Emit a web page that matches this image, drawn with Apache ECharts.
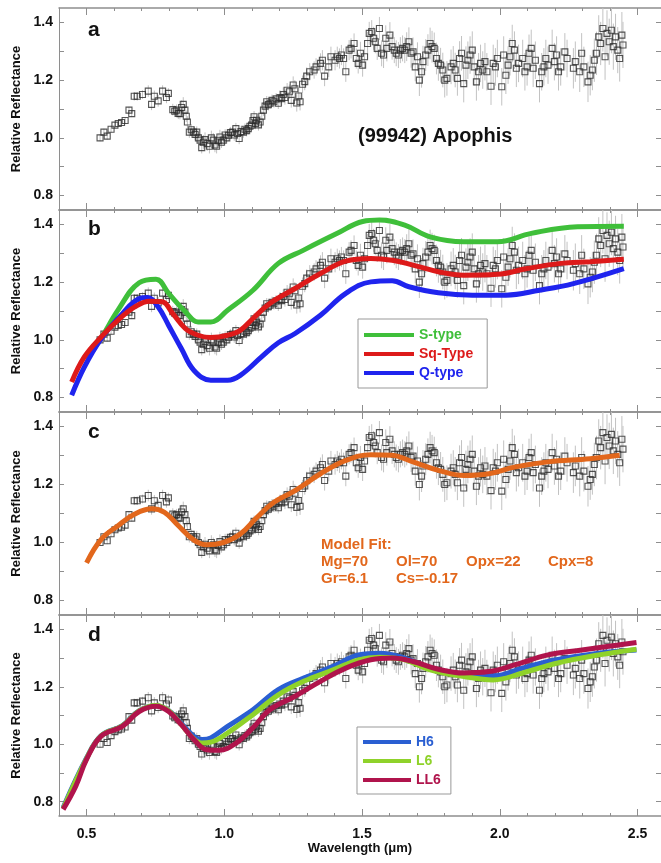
<!DOCTYPE html>
<html>
<head>
<meta charset="utf-8">
<script src="https://cdn.jsdelivr.net/npm/echarts@6/dist/echarts.min.js"></script>
<style>
  html, body { margin: 0; padding: 0; background: #fff; }
  #chart { width: 661px; height: 863px; }
</style>
</head>
<body>
<div id="chart"></div>
<script>
// observed spectrum of (99942) Apophis: [wavelength, reflectance, error]
const obsData = [
  [0.549,1.000,0.012],[0.563,1.020,0.012],[0.575,1.006,0.012],[0.589,1.030,0.012],[0.603,1.044,0.010],
  [0.615,1.050,0.010],[0.627,1.053,0.010],[0.640,1.060,0.010],[0.654,1.096,0.012],[0.664,1.084,0.012],
  [0.673,1.144,0.015],[0.684,1.144,0.015],[0.703,1.150,0.015],[0.724,1.162,0.020],[0.736,1.116,0.020],
  [0.746,1.144,0.020],[0.760,1.128,0.020],[0.776,1.162,0.020],[0.790,1.140,0.020],[0.797,1.154,0.018],
  [0.813,1.098,0.020],[0.820,1.092,0.020],[0.827,1.096,0.020],[0.833,1.085,0.020],[0.839,1.084,0.020],
  [0.845,1.105,0.025],[0.851,1.116,0.025],[0.857,1.096,0.020],[0.862,1.075,0.020],[0.866,1.055,0.020],
  [0.873,1.020,0.020],[0.880,1.028,0.020],[0.888,1.020,0.020],[0.894,1.012,0.020],[0.900,1.020,0.020],
  [0.906,1.000,0.020],[0.912,0.992,0.020],[0.918,0.966,0.020],[0.924,0.985,0.025],[0.930,0.994,0.025],
  [0.938,0.980,0.025],[0.946,0.971,0.025],[0.953,1.000,0.025],[0.960,0.992,0.025],[0.966,0.975,0.025],
  [0.972,0.971,0.025],[0.978,0.990,0.025],[0.984,1.003,0.025],[0.990,0.985,0.020],[0.996,0.992,0.020],
  [1.003,1.010,0.020],[1.009,1.000,0.020],[1.015,1.009,0.020],[1.022,1.018,0.020],[1.030,1.020,0.020],
  [1.036,1.010,0.020],[1.042,1.032,0.020],[1.048,1.015,0.020],[1.054,0.998,0.020],[1.061,1.022,0.020],
  [1.069,1.020,0.020],[1.075,1.030,0.020],[1.081,1.025,0.020],[1.087,1.032,0.020],[1.093,1.040,0.020],
  [1.099,1.044,0.020],[1.104,1.060,0.020],[1.108,1.073,0.020],[1.113,1.050,0.020],[1.117,1.061,0.020],
  [1.124,1.045,0.020],[1.130,1.055,0.020],[1.136,1.075,0.020],[1.142,1.096,0.020],[1.148,1.110,0.020],
  [1.154,1.125,0.020],[1.160,1.115,0.020],[1.166,1.120,0.020],[1.173,1.130,0.020],[1.180,1.125,0.020],
  [1.188,1.135,0.020],[1.196,1.120,0.020],[1.202,1.140,0.025],[1.208,1.136,0.025],[1.214,1.150,0.025],
  [1.220,1.140,0.025],[1.228,1.165,0.025],[1.236,1.160,0.025],[1.243,1.130,0.025],[1.250,1.183,0.030],
  [1.256,1.170,0.030],[1.263,1.121,0.030],[1.270,1.145,0.030],[1.275,1.125,0.030],[1.284,1.186,0.030],
  [1.292,1.195,0.030],[1.299,1.214,0.030],[1.310,1.229,0.030],[1.326,1.235,0.030],[1.333,1.246,0.030],
  [1.349,1.258,0.035],[1.356,1.269,0.035],[1.364,1.214,0.035],[1.379,1.246,0.035],[1.387,1.281,0.035],
  [1.402,1.269,0.035],[1.410,1.281,0.035],[1.418,1.275,0.035],[1.425,1.287,0.035],[1.433,1.275,0.035],
  [1.441,1.229,0.035],[1.453,1.304,0.035],[1.460,1.310,0.035],[1.471,1.327,0.035],[1.479,1.275,0.035],
  [1.486,1.258,0.035],[1.494,1.293,0.040],[1.502,1.252,0.040],[1.509,1.281,0.040],[1.520,1.327,0.040],
  [1.526,1.362,0.040],[1.535,1.368,0.040],[1.542,1.345,0.040],[1.548,1.333,0.040],[1.555,1.310,0.040],
  [1.563,1.379,0.040],[1.571,1.293,0.045],[1.578,1.287,0.045],[1.586,1.345,0.045],[1.590,1.310,0.045],
  [1.601,1.356,0.045],[1.609,1.316,0.045],[1.617,1.304,0.045],[1.624,1.293,0.045],[1.632,1.287,0.045],
  [1.639,1.304,0.045],[1.647,1.310,0.045],[1.655,1.304,0.045],[1.662,1.316,0.050],[1.670,1.333,0.050],
  [1.678,1.293,0.050],[1.685,1.298,0.050],[1.693,1.246,0.050],[1.701,1.281,0.050],[1.708,1.200,0.055],
  [1.716,1.229,0.055],[1.721,1.264,0.055],[1.731,1.287,0.055],[1.739,1.304,0.055],[1.747,1.327,0.055],
  [1.754,1.316,0.055],[1.762,1.310,0.055],[1.770,1.275,0.055],[1.777,1.258,0.060],[1.785,1.252,0.060],
  [1.793,1.235,0.060],[1.800,1.200,0.060],[1.808,1.206,0.060],[1.823,1.246,0.060],[1.831,1.258,0.060],
  [1.838,1.235,0.060],[1.846,1.206,0.060],[1.854,1.275,0.060],[1.861,1.293,0.060],[1.869,1.188,0.065],
  [1.877,1.252,0.065],[1.884,1.269,0.065],[1.892,1.287,0.065],[1.900,1.304,0.065],[1.907,1.246,0.065],
  [1.915,1.194,0.065],[1.923,1.229,0.065],[1.930,1.258,0.065],[1.938,1.235,0.065],[1.946,1.264,0.065],
  [1.953,1.229,0.065],[1.968,1.179,0.065],[1.976,1.258,0.065],[1.984,1.246,0.065],[1.991,1.275,0.065],
  [2.007,1.177,0.065],[2.014,1.287,0.065],[2.022,1.217,0.065],[2.030,1.252,0.065],[2.037,1.281,0.065],
  [2.045,1.327,0.065],[2.053,1.304,0.065],[2.060,1.241,0.065],[2.068,1.258,0.065],[2.083,1.275,0.065],
  [2.091,1.229,0.065],[2.099,1.246,0.065],[2.106,1.293,0.065],[2.114,1.310,0.065],[2.121,1.241,0.065],
  [2.129,1.269,0.065],[2.144,1.188,0.065],[2.152,1.229,0.065],[2.160,1.246,0.065],[2.167,1.275,0.065],
  [2.175,1.252,0.065],[2.190,1.310,0.065],[2.198,1.264,0.065],[2.206,1.287,0.065],[2.213,1.229,0.065],
  [2.221,1.246,0.065],[2.236,1.298,0.065],[2.244,1.275,0.065],[2.267,1.241,0.070],[2.274,1.264,0.070],
  [2.290,1.229,0.070],[2.297,1.293,0.070],[2.305,1.246,0.070],[2.320,1.194,0.070],[2.328,1.217,0.070],
  [2.336,1.235,0.070],[2.343,1.269,0.075],[2.351,1.293,0.075],[2.359,1.350,0.075],[2.366,1.327,0.075],
  [2.374,1.379,0.080],[2.382,1.281,0.080],[2.389,1.362,0.080],[2.397,1.333,0.080],[2.405,1.373,0.080],
  [2.412,1.316,0.080],[2.420,1.350,0.080],[2.428,1.304,0.080],[2.435,1.275,0.080],[2.443,1.356,0.080],
  [2.447,1.322,0.080]
];

// panel b: taxonomic class averages
const sType = [
  [0.50,0.935],[0.553,1.006],[0.614,1.103],[0.691,1.198],[0.752,1.210],[0.798,1.161],[0.859,1.097],
  [0.905,1.062],[0.951,1.062],[1.012,1.103],[1.104,1.172],[1.196,1.265],[1.288,1.311],[1.410,1.369],
  [1.502,1.410],[1.563,1.415],[1.655,1.398],[1.747,1.357],[1.869,1.340],[1.991,1.340],[2.114,1.369],
  [2.282,1.392],[2.450,1.394]
];
const sqType = [
  [0.446,0.854],[0.492,0.941],[0.553,1.010],[0.614,1.068],[0.675,1.114],[0.729,1.134],[0.775,1.132],
  [0.813,1.091],[0.859,1.039],[0.905,1.016],[0.951,1.008],[1.012,1.016],[1.058,1.033],[1.104,1.074],
  [1.165,1.126],[1.257,1.178],[1.349,1.230],[1.441,1.273],[1.532,1.282],[1.609,1.276],[1.685,1.259],
  [1.777,1.236],[1.869,1.224],[1.991,1.227],[2.099,1.247],[2.221,1.265],[2.328,1.271],[2.450,1.279]
];
const qType = [
  [0.446,0.808],[0.492,0.906],[0.553,1.004],[0.630,1.091],[0.691,1.143],[0.721,1.147],[0.760,1.114],
  [0.798,1.050],[0.844,0.970],[0.890,0.894],[0.951,0.860],[1.012,0.860],[1.058,0.877],[1.135,0.941],
  [1.196,0.990],[1.257,1.022],[1.349,1.085],[1.441,1.161],[1.532,1.201],[1.609,1.205],[1.670,1.184],
  [1.777,1.163],[1.900,1.155],[2.022,1.155],[2.144,1.172],[2.267,1.195],[2.450,1.247]
];

// panel c: model fit
const modelFit = [
  [0.500,0.930],[0.553,1.011],[0.614,1.058],[0.675,1.098],[0.737,1.116],[0.783,1.104],[0.828,1.063],
  [0.890,1.008],[0.936,0.992],[0.997,1.000],[1.058,1.029],[1.119,1.087],[1.180,1.139],[1.257,1.179],
  [1.349,1.237],[1.441,1.283],[1.532,1.303],[1.609,1.301],[1.685,1.278],[1.777,1.249],[1.869,1.231],
  [1.960,1.237],[2.053,1.260],[2.175,1.278],[2.328,1.289],[2.435,1.301]
];
const fitLines = [
  ['Model Fit:'],
  ['Mg=70', 'Ol=70', 'Opx=22', 'Cpx=8'],
  ['Gr=6.1', 'Cs=-0.17']
];

// panel d: ordinary chondrites
const h6 = [
  [0.415,0.779],[0.500,0.952],[0.553,1.030],[0.630,1.065],[0.691,1.117],[0.752,1.134],[0.798,1.117],
  [0.844,1.072],[0.890,1.027],[0.920,1.016],[0.951,1.022],[1.012,1.062],[1.104,1.120],[1.196,1.190],
  [1.288,1.230],[1.395,1.271],[1.487,1.311],[1.563,1.317],[1.655,1.300],[1.747,1.265],[1.869,1.242],
  [1.976,1.238],[2.083,1.265],[2.206,1.294],[2.359,1.317],[2.496,1.328]
];
const l6 = [
  [0.415,0.775],[0.500,0.950],[0.553,1.029],[0.630,1.064],[0.691,1.116],[0.752,1.135],[0.798,1.117],
  [0.844,1.068],[0.890,1.018],[0.920,1.004],[0.951,1.007],[1.012,1.039],[1.104,1.103],[1.196,1.172],
  [1.288,1.219],[1.395,1.259],[1.487,1.294],[1.563,1.303],[1.655,1.294],[1.747,1.259],[1.869,1.236],
  [1.976,1.224],[2.083,1.248],[2.206,1.282],[2.359,1.311],[2.496,1.331]
];
const ll6 = [
  [0.415,0.773],[0.461,0.854],[0.500,0.947],[0.553,1.028],[0.630,1.062],[0.691,1.114],[0.752,1.132],
  [0.798,1.114],[0.844,1.068],[0.890,1.016],[0.936,0.981],[0.981,0.979],[1.043,1.004],[1.104,1.057],
  [1.165,1.120],[1.257,1.167],[1.349,1.219],[1.441,1.265],[1.532,1.294],[1.609,1.300],[1.685,1.288],
  [1.777,1.261],[1.869,1.248],[1.960,1.253],[2.053,1.276],[2.175,1.311],[2.298,1.328],[2.389,1.340],
  [2.496,1.354]
];

const xLabels = [0.5, 1.0, 1.5, 2.0, 2.5];
const xMinorTicks = [0.4,0.6,0.7,0.8,0.9,1.1,1.2,1.3,1.4,1.6,1.7,1.8,1.9,2.1,2.2,2.3,2.4];
const yLabels = [0.8, 1.0, 1.2, 1.4];
const yTicks = [0.8, 0.9, 1.0, 1.1, 1.2, 1.3, 1.4];
const panelLetters = ['a', 'b', 'c', 'd'];

const FONT = 'Liberation Sans, Arial, Helvetica, sans-serif';
const AXIS_GRAY = '#8e8e8e';

const panels = [
  { top: 8, height: 202, letterY: 31 },
  { top: 210, height: 202, letterY: 230 },
  { top: 412, height: 203, letterY: 433 },
  { top: 615, height: 201, letterY: 636 }
];

const chart = echarts.init(document.getElementById('chart'));

const grid = [], xAxis = [], yAxis = [], series = [];

panels.forEach(function (p, i) {
  grid.push({ left: 59, right: 0, top: p.top, height: p.height });
  const isLast = i === panels.length - 1;
  const base = { gridIndex: i, type: 'value', min: 0.4, max: 2.585, splitLine: { show: false } };
  // bottom, major ticks + labels
  xAxis.push(Object.assign({}, base, {
    position: 'bottom',
    axisLine: { onZero: false, lineStyle: { color: AXIS_GRAY, width: 1.5 } },
    axisTick: { inside: true, length: 7, customValues: xLabels, lineStyle: { color: AXIS_GRAY } },
    axisLabel: {
      show: isLast, customValues: xLabels, margin: 11,
      formatter: function (v) { return v.toFixed(1); },
      color: '#111', fontFamily: FONT, fontWeight: 'bold', fontSize: 14
    },
    name: isLast ? 'Wavelength (\u03bcm)' : '',
    nameLocation: 'middle', nameGap: 23,
    nameTextStyle: { color: '#111', fontFamily: FONT, fontWeight: 'bold', fontSize: 13 }
  }));
  // bottom, minor ticks
  xAxis.push(Object.assign({}, base, {
    position: 'bottom',
    axisLine: { show: false, onZero: false },
    axisTick: { inside: true, length: 3, customValues: xMinorTicks, lineStyle: { color: AXIS_GRAY } },
    axisLabel: { show: false }
  }));
  // top, major
  xAxis.push(Object.assign({}, base, {
    position: 'top',
    axisLine: { onZero: false, lineStyle: { color: AXIS_GRAY, width: 1.5 } },
    axisTick: { inside: true, length: 7, customValues: xLabels, lineStyle: { color: AXIS_GRAY } },
    axisLabel: { show: false }
  }));
  // top, minor
  xAxis.push(Object.assign({}, base, {
    position: 'top',
    axisLine: { show: false, onZero: false },
    axisTick: { inside: true, length: 3, customValues: xMinorTicks, lineStyle: { color: AXIS_GRAY } },
    axisLabel: { show: false }
  }));

  yAxis.push({
    gridIndex: i, type: 'value', min: 0.75, max: 1.45, position: 'left',
    splitLine: { show: false },
    axisLine: { show: true, onZero: false, lineStyle: { color: AXIS_GRAY, width: 1 } },
    axisTick: { inside: true, length: 5, customValues: yTicks, lineStyle: { color: AXIS_GRAY } },
    axisLabel: {
      customValues: yLabels, margin: 6,
      formatter: function (v) { return v.toFixed(1); },
      color: '#111', fontFamily: FONT, fontWeight: 'bold', fontSize: 14
    },
    name: 'Relative Reflectance', nameLocation: 'middle', nameGap: 29,
    nameTextStyle: { color: '#111', fontFamily: FONT, fontWeight: 'bold', fontSize: 13 }
  });
  yAxis.push({
    gridIndex: i, type: 'value', min: 0.75, max: 1.45, position: 'right',
    splitLine: { show: false },
    axisLine: { show: true, onZero: false, lineStyle: { color: AXIS_GRAY } },
    axisTick: { inside: true, length: 5, customValues: yTicks, lineStyle: { color: AXIS_GRAY } },
    axisLabel: { show: false }
  });

  // error bars
  series.push({
    type: 'custom', xAxisIndex: i * 4, yAxisIndex: i * 2, clip: true, silent: true,
    data: obsData, encode: { x: 0, y: 1 }, z: 1,
    renderItem: function (params, api) {
      const x = api.value(0), y = api.value(1), e = api.value(2);
      const a = api.coord([x, y + e]), b = api.coord([x, y - e]);
      return {
        type: 'line',
        shape: { x1: a[0], y1: a[1], x2: b[0], y2: b[1] },
        style: { stroke: '#c2c2c2', lineWidth: 1 }
      };
    }
  });
  // observed points as open squares
  series.push({
    type: 'scatter', xAxisIndex: i * 4, yAxisIndex: i * 2, z: 2, silent: true,
    data: obsData.map(function (d) { return [d[0], d[1]]; }),
    symbol: 'path://M0,0H10V10H0Z', symbolSize: 6,
    itemStyle: { color: 'rgba(0,0,0,0)', borderColor: '#2a2a2a', borderWidth: 1.1 }
  });
});

function modelLine(name, data, color, panel, width) {
  return {
    name: name, type: 'line', xAxisIndex: panel * 4, yAxisIndex: panel * 2,
    data: data, smooth: 0.4, showSymbol: false, z: 5, silent: true,
    lineStyle: { color: color, width: width },
    itemStyle: { color: color }
  };
}

const C = { s: '#3fbf3a', sq: '#dd1a1a', q: '#1f24ee', fit: '#e2671c', h6: '#2a5fd2', l6: '#8fd22a', ll6: '#b0144c' };

series.push(modelLine('S-type', sType, C.s, 1, 5));
series.push(modelLine('Q-type', qType, C.q, 1, 5));
series.push(modelLine('Sq-Type', sqType, C.sq, 1, 5));
series.push(modelLine('Model Fit', modelFit, C.fit, 2, 5));
series.push(modelLine('H6', h6, C.h6, 3, 5));
series.push(modelLine('L6', l6, C.l6, 3, 5));
series.push(modelLine('LL6', ll6, C.ll6, 3, 5));

function legendItem(name, color) {
  return { name: name, icon: 'rect', textStyle: { color: color } };
}
const legendBase = {
  orient: 'vertical', backgroundColor: '#fff', borderColor: '#999', borderWidth: 1,
  itemWidth: 50, itemHeight: 4, itemGap: 5, selectedMode: false,
  textStyle: { fontFamily: FONT, fontWeight: 'bold', fontSize: 14 }
};
const legend = [
  Object.assign({}, legendBase, {
    left: 358, top: 319, padding: [9, 14, 8, 6],
    data: [legendItem('S-type', C.s), legendItem('Sq-Type', C.sq), legendItem('Q-type', C.q)]
  }),
  Object.assign({}, legendBase, {
    left: 357, top: 727, padding: [8, 10, 7, 6], itemWidth: 48,
    data: [legendItem('H6', C.h6), legendItem('L6', C.l6), legendItem('LL6', C.ll6)]
  })
];

const graphic = [];
panels.forEach(function (p, i) {
  graphic.push({
    type: 'text', left: 88, top: p.letterY - 11,
    style: { text: panelLetters[i], font: 'bold 21px ' + FONT, fill: '#111' }
  });
});
graphic.push({
  type: 'text', left: 358, top: 126,
  style: { text: '(99942) Apophis', font: 'bold 20px ' + FONT, fill: '#111' }
});
const fitCols = [321, 396, 466, 548];
fitLines.forEach(function (row, r) {
  row.forEach(function (txt, c) {
    graphic.push({
      type: 'text', left: fitCols[c], top: 537 + r * 17,
      style: { text: txt, font: 'bold 15px ' + FONT, fill: C.fit }
    });
  });
});

chart.setOption({
  animation: false,
  backgroundColor: '#fff',
  grid: grid,
  xAxis: xAxis,
  yAxis: yAxis,
  legend: legend,
  series: series,
  graphic: graphic
});
</script>
</body>
</html>
